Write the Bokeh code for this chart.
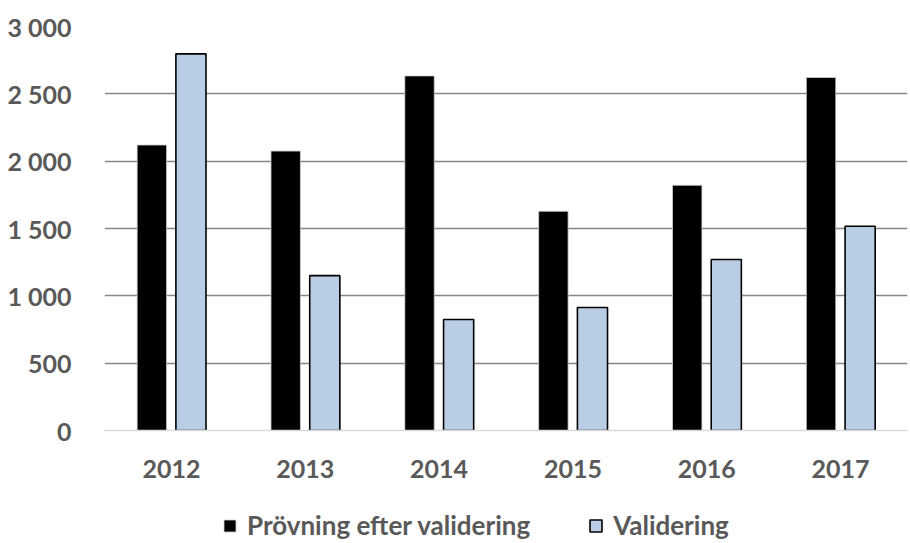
from bokeh.plotting import figure
from bokeh.layouts import column
from bokeh.models import FactorRange, Range1d, FixedTicker, Legend, LegendItem, ColumnDataSource, CustomJSTickFormatter
from bokeh.transform import dodge
from bokeh.embed import file_html
from bokeh.resources import INLINE

years = ["2012", "2013", "2014", "2015", "2016", "2017"]
provning = [2120, 2075, 2633, 1628, 1821, 2621]
validering = [2797, 1150, 824, 913, 1270, 1517]
y_ticks = [0, 500, 1000, 1500, 2000, 2500, 3000]
series_names = ["Prövning efter validering", "Validering"]

FONT = "Lato"
TXT = "#595959"
PROV_STYLE = dict(fill_color="black", line_color="#d0d0d0", line_width=0.8)
VAL_STYLE = dict(fill_color="#b9cde5", line_color="black", line_width=1.6)

src = ColumnDataSource(dict(year=years, prov=provning, val=validering))

p = figure(x_range=FactorRange(*years, range_padding=0), y_range=Range1d(0, 3000),
           width=908, height=490, output_backend="svg", toolbar_location=None,
           min_border_left=104, min_border_right=1, min_border_top=26, min_border_bottom=60)
p.outline_line_color = None
p.background_fill_color = "white"
p.border_fill_color = "white"

p.vbar(x=dodge("year", -0.146, range=p.x_range), top="prov", width=0.22, source=src, **PROV_STYLE)
p.vbar(x=dodge("year", 0.146, range=p.x_range), top="val", width=0.225, source=src, **VAL_STYLE)

p.ygrid.ticker = FixedTicker(ticks=y_ticks[1:])
p.ygrid.grid_line_color = "#868686"
p.ygrid.grid_line_width = 1.5
p.xgrid.grid_line_color = None
p.ygrid.level = "underlay"

p.yaxis.ticker = FixedTicker(ticks=y_ticks)
p.yaxis.formatter = CustomJSTickFormatter(code="return tick.toString().replace(/\\B(?=(\\d{3})+(?!\\d))/g, ' ');")
p.yaxis.axis_line_color = None
p.yaxis.major_tick_line_color = None
p.yaxis.minor_tick_line_color = None
p.yaxis.major_label_standoff = 27
p.yaxis.major_label_text_font = FONT
p.yaxis.major_label_text_font_style = "bold"
p.yaxis.major_label_text_font_size = "25px"
p.yaxis.major_label_text_color = TXT

p.xaxis.axis_line_color = "#d9d9d9"
p.xaxis.axis_line_width = 1.5
p.xaxis.major_tick_line_color = None
p.xaxis.minor_tick_line_color = None
p.xaxis.major_label_standoff = 23
p.xaxis.major_label_text_font = FONT
p.xaxis.major_label_text_font_style = "bold"
p.xaxis.major_label_text_font_size = "25px"
p.xaxis.major_label_text_color = TXT

# legend strip: zero-width proxy bars outside its y range, only the legend shows
lf = figure(width=908, height=51, output_backend="svg", toolbar_location=None,
            x_range=FactorRange(*years, range_padding=0), y_range=Range1d(10000, 10001),
            min_border=0, min_border_left=0, min_border_right=0, min_border_top=0, min_border_bottom=0)
lf.axis.visible = False
lf.grid.visible = False
lf.outline_line_color = None
lr1 = lf.vbar(x="year", top="prov", width=0, source=src, **PROV_STYLE)
lr2 = lf.vbar(x="year", top="val", width=0, source=src, **VAL_STYLE)

legend = Legend(items=[LegendItem(label=series_names[0], renderers=[lr1]),
                       LegendItem(label=series_names[1], renderers=[lr2])],
                orientation="horizontal", location=(118, 0))
legend.label_text_font = FONT
legend.label_text_font_style = "bold"
legend.label_text_font_size = "26px"
legend.label_text_color = TXT
legend.glyph_width = 15
legend.glyph_height = 15
legend.label_standoff = 10
legend.spacing = 58
legend.border_line_color = None
legend.background_fill_alpha = 0
legend.padding = 0
legend.margin = 0
lf.add_layout(legend, "center")

open("out.html", "w").write(file_html(column(p, lf, spacing=0), INLINE))
